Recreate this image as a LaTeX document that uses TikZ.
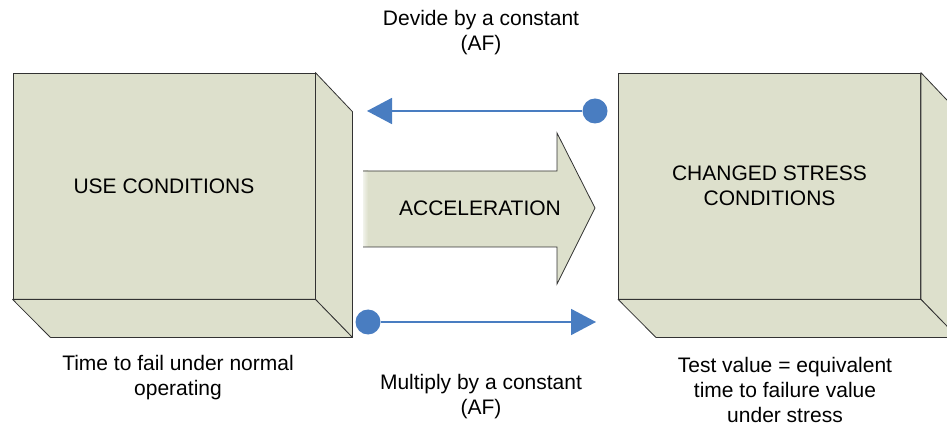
\documentclass[tikz,border=0pt]{standalone}
\usepackage{fontspec}
\setmainfont{Liberation Sans}
\usetikzlibrary{arrows.meta}
\definecolor{boxfill}{RGB}{221,224,204}
\definecolor{linkblue}{RGB}{73,125,193}
\definecolor{edgegray}{RGB}{50,50,50}
\begin{document}
\begin{tikzpicture}[x=1pt,y=-1pt,
  face/.style={draw=edgegray, fill=boxfill, line width=0.8pt, line join=round},
  frontface/.style={face, minimum width=302pt, minimum height=226pt, inner sep=0pt, align=center, font=\fontsize{21}{25}\selectfont},
  txt/.style={align=center, font=\fontsize{21}{25}\selectfont, inner sep=0pt},
  dot/.style={circle, fill=linkblue, minimum size=25pt, inner sep=0pt},
  link/.style={draw=linkblue, line width=1.8pt, -{Triangle[length=25pt,width=26pt]}}]
\useasboundingbox (0,0) rectangle (947,427);
\clip (0,0) rectangle (947,427);

% left box
\node[frontface] (use) at (164,186) {USE CONDITIONS};
\draw[face] (use.north east) -- ++(37,39) -- ++(0,226) -- (use.south east) -- cycle;
\draw[face] (use.south west) -- (use.south east) -- ++(37,38) -- ++(-302,0) -- cycle;

% right box
\node[frontface] (stress) at (769.5,186) {CHANGED STRESS\\CONDITIONS};
\draw[face] (stress.north east) -- ++(37,39) -- ++(0,226) -- (stress.south east) -- cycle;
\draw[face] (stress.south west) -- (stress.south east) -- ++(37,38) -- ++(-302,0) -- cycle;

% acceleration arrow
\fill[boxfill] (363,171) -- (557,171) -- (557,133) -- (595,208) -- (557,284) -- (557,247) -- (363,247) -- cycle;
\shade[left color=white!60!boxfill, right color=boxfill] (363,171) rectangle (368,247);
\draw[edgegray, line width=0.8pt, line join=miter] (363,171) -- (557,171) -- (557,133) -- (595,208) -- (557,284) -- (557,247) -- (363,247);
\node[txt] (accel) at (480,208) {ACCELERATION};

% top link
\node[dot] (d1) at (595,111) {};
\coordinate (e1) at (367,111);
\draw[link] (d1) -- (e1);

% bottom link
\node[dot] (d2) at (368,322) {};
\coordinate (e2) at (596,322);
\draw[link] (d2) -- (e2);

% captions
\node[txt] (topcap) at (481,33) {Devide by a constant\\(AF)};
\node[txt] (leftcap) at (178,378) {Time to fail under normal\\operating};
\node[txt] (midcap) at (481,397) {Multiply by a constant\\(AF)};
\node[txt] (rightcap) at (785,390) {Test value = equivalent\\time to failure value\\under stress};
\end{tikzpicture}
\end{document}
